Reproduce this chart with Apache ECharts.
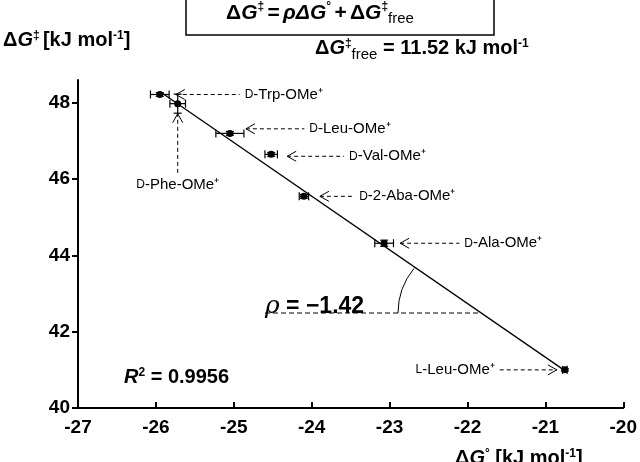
<!DOCTYPE html>
<html><head><meta charset="utf-8">
<script src="https://cdn.jsdelivr.net/npm/echarts@6/dist/echarts.min.js"></script>
<style>body{margin:0;background:#fff}#main{width:640px;height:462px}</style>
</head><body><div id="main"></div>
<script>
// amino acid esters: [dG0, dGdagger, xErr, yErr]
var names = ['Trp', 'Phe', 'Leu', 'Val', '2-Aba', 'Ala', 'Leu'];
var prefix = ['D', 'D', 'D', 'D', 'D', 'D', 'L'];
var xVals = [-25.95, -25.72, -25.05, -24.52, -24.1, -23.07, -20.75];
var yVals = [48.22, 47.98, 47.2, 46.65, 45.55, 44.32, 41.0];
var xErr = [0.12, 0.1, 0.18, 0.08, 0.06, 0.12, 0.03];
var yErr = [0.05, 0.25, 0.05, 0.05, 0.05, 0.08, 0.03];
var fitLine = [[-25.95, 48.3], [-20.75, 40.98]];
// label positions [textX, textY] in data units (arrow goes to point)
var labelPos = [[-24.86, 48.22], [-25.72, 45.85], [-24.03, 47.32], [-23.52, 46.6], [-23.39, 45.55], [-22.04, 44.32], [-21.65, 41.0]];
var yTicks = [40, 42, 44, 46, 48];

var font = 'Liberation Sans, Arial, sans-serif';
var myChart = echarts.init(document.getElementById('main'));
var pts = xVals.map(function (x, i) { return [x, yVals[i], xErr[i], yErr[i]]; });

var option = {
    animation: false,
    grid: {left: 78, right: 15, top: 80, bottom: 54},
    xAxis: {
        type: 'value', min: -27, max: -20, interval: 1,
        axisLine: {lineStyle: {color: '#000', width: 2}},
        axisTick: {inside: true, length: 6, lineStyle: {color: '#000', width: 2}},
        axisLabel: {color: '#000', fontSize: 19, fontWeight: 'bold', fontFamily: font, margin: 10},
        splitLine: {show: false}
    },
    yAxis: {
        type: 'value', min: 40, max: 48.6, interval: 2,
        axisLine: {show: true, lineStyle: {color: '#000', width: 2}},
        axisTick: {show: true, length: 6, lineStyle: {color: '#000', width: 2}},
        axisLabel: {color: '#000', fontSize: 19, fontWeight: 'bold', fontFamily: font, showMaxLabel: false,
            formatter: function (v) { return yTicks.indexOf(v) >= 0 ? v : ''; }},
        splitLine: {show: false}
    },
    series: [
        {type: 'line', data: fitLine, symbol: 'none', lineStyle: {color: '#000', width: 1.3}},
        {
            type: 'custom', data: pts,
            renderItem: function (params, api) {
                var c = api.coord([api.value(0), api.value(1)]);
                var xl = api.coord([api.value(0) - api.value(2), api.value(1)]);
                var xr = api.coord([api.value(0) + api.value(2), api.value(1)]);
                var yt = api.coord([api.value(0), api.value(1) + api.value(3)]);
                var yb = api.coord([api.value(0), api.value(1) - api.value(3)]);
                var st = {stroke: '#000', lineWidth: 1.2};
                return {type: 'group', children: [
                    {type: 'line', shape: {x1: xl[0], y1: c[1], x2: xr[0], y2: c[1]}, style: st},
                    {type: 'line', shape: {x1: xl[0], y1: c[1] - 4, x2: xl[0], y2: c[1] + 4}, style: st},
                    {type: 'line', shape: {x1: xr[0], y1: c[1] - 4, x2: xr[0], y2: c[1] + 4}, style: st},
                    {type: 'line', shape: {x1: c[0], y1: yt[1], x2: c[0], y2: yb[1]}, style: st},
                    {type: 'line', shape: {x1: c[0] - 4, y1: yt[1], x2: c[0] + 4, y2: yt[1]}, style: st},
                    {type: 'line', shape: {x1: c[0] - 4, y1: yb[1], x2: c[0] + 4, y2: yb[1]}, style: st},
                    {type: 'circle', shape: {cx: c[0], cy: c[1], r: 3.5}, style: {fill: '#000'}}
                ]};
            }
        },
        {
            type: 'custom', data: pts.map(function (p, i) { return [p[0], p[1], labelPos[i][0], labelPos[i][1], i]; }),
            renderItem: function (params, api) {
                var i = api.value(4);
                var p = api.coord([api.value(0), api.value(1)]);
                var t = api.coord([api.value(2), api.value(3)]);
                var dash = {stroke: '#000', lineWidth: 1, lineDash: [4, 3]};
                var head = {stroke: '#000', lineWidth: 1, fill: null};
                var txt = '{sc|' + prefix[i] + '}-' + names[i] + '-OMe\u207A';
                var rich = {sc: {fontSize: 12, fontFamily: font, fill: '#000'}};
                var kids = [];
                if (i === 1) {
                    var tip = p[1] + 10;
                    kids.push({type: 'line', shape: {x1: p[0], y1: t[1] - 12, x2: p[0], y2: tip}, style: dash});
                    kids.push({type: 'polyline', shape: {points: [[p[0] - 5, tip + 9], [p[0], tip], [p[0] + 5, tip + 9]]}, style: head});
                    kids.push({type: 'text', x: p[0], y: t[1], style: {text: txt, rich: rich, fontSize: 15, fontFamily: font, fill: '#000', align: 'center', verticalAlign: 'middle'}});
                } else if (prefix[i] === 'L') {
                    var tip2 = p[0] - 8;
                    kids.push({type: 'text', x: t[0], y: t[1], style: {text: txt, rich: rich, fontSize: 15, fontFamily: font, fill: '#000', align: 'right', verticalAlign: 'middle'}});
                    kids.push({type: 'line', shape: {x1: t[0] + 5, y1: p[1], x2: tip2, y2: p[1]}, style: dash});
                    kids.push({type: 'polyline', shape: {points: [[tip2 - 9, p[1] - 5], [tip2, p[1]], [tip2 - 9, p[1] + 5]]}, style: head});
                } else {
                    var tip3 = p[0] + 16;
                    kids.push({type: 'text', x: t[0], y: t[1], style: {text: txt, rich: rich, fontSize: 15, fontFamily: font, fill: '#000', align: 'left', verticalAlign: 'middle'}});
                    kids.push({type: 'line', shape: {x1: tip3, y1: t[1], x2: t[0] - 5, y2: t[1]}, style: dash});
                    kids.push({type: 'polyline', shape: {points: [[tip3 + 9, t[1] - 5], [tip3, t[1]], [tip3 + 9, t[1] + 5]]}, style: head});
                }
                return {type: 'group', children: kids};
            }
        }
    ],
    graphic: [
        {type: 'rect', shape: {x: 186, y: -20, width: 308, height: 55}, style: {fill: '#fff', stroke: '#000', lineWidth: 1.5}},
        {type: 'text', left: 'center', top: 1, style: {text: '{b|\u0394}{bi|G}{s|\u2021} {b|=} {bi|\u03C1\u0394G}{s|\u00B0} {b|+} {b|\u0394}{bi|G}{s|\u2021}{sub|free}',
            rich: {b: {fontSize: 21, fontWeight: 'bold', fontFamily: font}, bi: {fontSize: 21, fontWeight: 'bold', fontStyle: 'italic', fontFamily: font},
                s: {fontSize: 12, fontWeight: 'bold', fontFamily: font, verticalAlign: 'top'}, sub: {fontSize: 15, fontFamily: font, padding: [10, 0, 0, 0]}}}},
        {type: 'text', left: 3, top: 30, style: {text: '{b|\u0394}{bi|G}{s|\u2021} {b|[kJ mol}{s|-1}{b|]}',
            rich: {b: {fontSize: 20, fontWeight: 'bold', fontFamily: font}, bi: {fontSize: 20, fontWeight: 'bold', fontStyle: 'italic', fontFamily: font},
                s: {fontSize: 12, fontWeight: 'bold', fontFamily: font, padding: [0, 0, 8, 0]}}}},
        {type: 'text', left: 315, top: 38, style: {text: '{b|\u0394}{bi|G}{s|\u2021}{sub|free}{b| = 11.52 kJ mol}{s|-1}',
            rich: {b: {fontSize: 20, fontWeight: 'bold', fontFamily: font}, bi: {fontSize: 20, fontWeight: 'bold', fontStyle: 'italic', fontFamily: font},
                s: {fontSize: 12, fontWeight: 'bold', fontFamily: font, padding: [0, 0, 8, 0]}, sub: {fontSize: 15, fontFamily: font, padding: [14, 0, 0, 0]}}}},
        {type: 'text', left: 124, top: 367, style: {text: '{bi|R}{s|2}{b| = 0.9956}',
            rich: {b: {fontSize: 20, fontWeight: 'bold', fontFamily: font}, bi: {fontSize: 20, fontWeight: 'bold', fontStyle: 'italic', fontFamily: font},
                s: {fontSize: 12, fontWeight: 'bold', fontFamily: font, padding: [0, 0, 8, 0]}}}},
        {type: 'text', left: 265, top: 294, style: {text: '{bi|\u03C1}{b| = \u22121.42}',
            rich: {b: {fontSize: 23, fontWeight: 'bold', fontFamily: font}, bi: {fontSize: 25, fontStyle: 'italic', fontFamily: 'DejaVu Serif'}}}},
        {type: 'line', shape: {x1: 265, y1: 313, x2: 478, y2: 313}, style: {stroke: '#000', lineWidth: 1, lineDash: [5, 3]}},
        {type: 'arc', shape: {cx: 468, cy: 313, r: 70, startAngle: Math.PI, endAngle: Math.PI * 1.22}, style: {stroke: '#000', lineWidth: 1, fill: null}},
        {type: 'text', left: 455, top: 448, style: {text: '{b|\u0394}{bi|G}{s|\u00B0}{b| [kJ mol}{s|-1}{b|]}',
            rich: {b: {fontSize: 20, fontWeight: 'bold', fontFamily: font}, bi: {fontSize: 20, fontWeight: 'bold', fontStyle: 'italic', fontFamily: font},
                s: {fontSize: 12, fontWeight: 'bold', fontFamily: font, padding: [0, 0, 8, 0]}}}}
    ]
};
myChart.setOption(option);
</script></body></html>
